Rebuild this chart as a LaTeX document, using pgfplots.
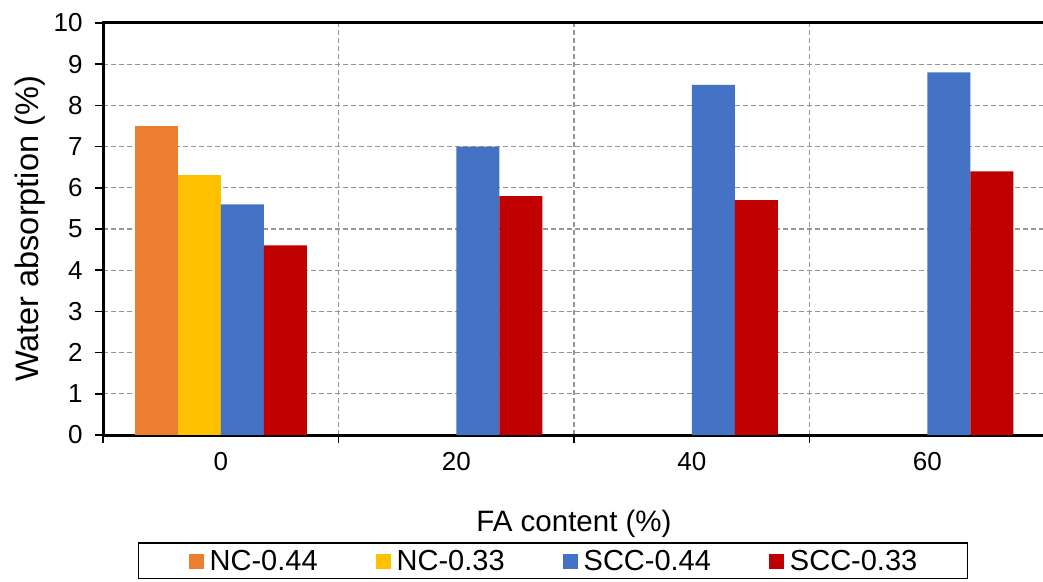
\documentclass[border=0pt]{standalone}
\usepackage{pgfplots}
\pgfplotsset{compat=1.18}
\usepackage{fontspec}
\setmainfont{Liberation Sans}

\definecolor{cOrange}{HTML}{ED7D31}
\definecolor{cYellow}{HTML}{FFC000}
\definecolor{cBlue}{HTML}{4472C4}
\definecolor{cRed}{HTML}{C00000}
\definecolor{gridgray}{RGB}{150,150,150}

\begin{document}
\begin{tikzpicture}[x=1pt,y=1pt]
\begin{axis}[
  at={(103pt,146pt)}, anchor=south west,
  scale only axis, width=942pt, height=412pt,
  ybar=0pt, bar width=43pt,
  enlargelimits=false,
  xmin=-0.5, xmax=3.5, ymin=0, ymax=10,
  xtick={0,1,2,3}, xticklabels={0,20,40,60},
  minor xtick={-0.5,0.5,1.5,2.5,3.5},
  ytick={0,1,...,10},
  tick pos=left,
  tick align=outside,
  major tick length=8pt, minor tick length=8pt,
  major x tick style={draw=none},
  minor x tick style={black, line width=1.5pt},
  y tick style={black, line width=1.5pt},
  ymajorgrids, xminorgrids,
  major grid style={gridgray, line width=1.1pt, dash pattern=on 5pt off 3pt},
  minor grid style={gridgray, line width=1.1pt, dash pattern=on 5pt off 3pt},
  axis line style={black, line width=3pt},
  /pgf/number format/assume math mode=true,
  tick label style={font=\fontsize{26}{30}\selectfont},
  xticklabel style={yshift=-6pt},
  yticklabel style={anchor=east, xshift=-9pt},
  xlabel={FA content (\%)},
  ylabel={Water absorption (\%)},
  xlabel style={font=\fontsize{29.5}{34}\selectfont, at={(axis description cs:0.5,-0.2354)}, anchor=base},
  ylabel style={font=\fontsize{32.5}{38}\selectfont, at={(axis description cs:-0.0775,0.5)}, anchor=center},
  legend columns=4,
  legend style={at={(axis description cs:0.4777,-0.2597)}, anchor=north,
    draw=black, line width=1.5pt, font=\fontsize{29}{34}\selectfont,
    inner xsep=50pt, inner ysep=4pt,
    nodes={inner xsep=0pt, inner ysep=3pt},
    /tikz/every odd column/.append style={column sep=6pt},
    /tikz/every even column/.append style={column sep=58pt}},
  legend image code/.code={\path[#1, draw=none] (0pt,-8pt) rectangle (15pt,7pt);},
]
\addplot[fill=cOrange, draw=none] coordinates {(0,7.5)};
\addplot[fill=cYellow, draw=none] coordinates {(0,6.3)};
\addplot[fill=cBlue, draw=none] coordinates {(0,5.6) (1,7.0) (2,8.5) (3,8.8)};
\addplot[fill=cRed, draw=none] coordinates {(0,4.6) (1,5.8) (2,5.7) (3,6.4)};
\legend{NC-0.44, NC-0.33, SCC-0.44, SCC-0.33}
\end{axis}
\pgfresetboundingbox
\useasboundingbox (0,0) rectangle (1043,581);
\end{tikzpicture}
\end{document}
